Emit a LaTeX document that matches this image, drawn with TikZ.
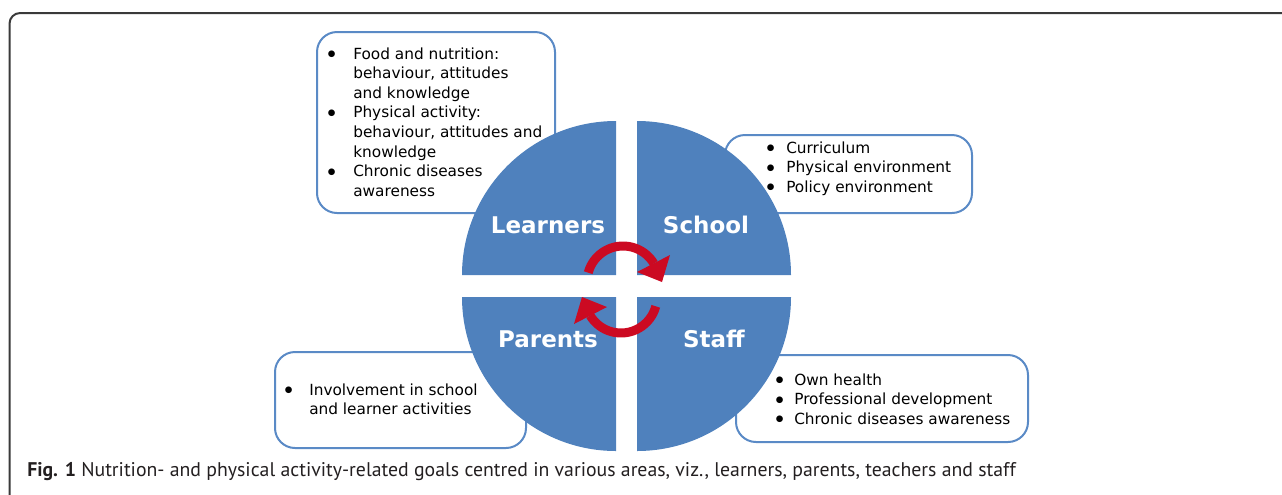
\documentclass[tikz,border=0pt]{standalone}
\usepackage{fontspec}
\setmainfont{DejaVu Sans}
\newfontfamily\capfont{PT Sans}
\definecolor{qblue}{HTML}{4F81BD}
\definecolor{bblue}{HTML}{5A8AC6}
\definecolor{ared}{HTML}{CC0A22}
\definecolor{framegray}{HTML}{3A3A3A}
\definecolor{capgray}{HTML}{231F20}
\newcommand{\bul}[1]{\makebox[#1][l]{\hspace{1.2pt}\raisebox{1.9pt}{\fontsize{6.5}{6.5}\selectfont ●}}}
\begin{document}
\begin{tikzpicture}[x=0.75pt,y=-0.75pt,
  infobox/.style={draw=bblue, line width=1.5pt, rounded corners=15pt, fill=white},
  quad/.style={fill=qblue},
  qlabel/.style={text=white, font=\bfseries\fontsize{17.25}{20}\selectfont, inner sep=0pt, anchor=base},
  listtext/.style={inner sep=0pt, anchor=base west, font=\fontsize{11.5}{14.7}\selectfont, text=black},
  cyc/.style={draw=ared, line width=6.75pt},
  cychead/.style={fill=ared},
  captext/.style={inner sep=0pt, anchor=base west, text=capgray, font=\capfont\fontsize{14.84}{17}\selectfont}
]
\useasboundingbox (0,0) rectangle (1282,494);
\begin{scope}
\clip (0,0) rectangle (1282,494);
\draw[framegray, line width=1.5pt, rounded corners=8pt] (9.5,520) -- (9.5,13) -- (1320,13);
\end{scope}

% info boxes (behind the circle)
\draw[infobox] (317,32) rectangle (555,213);
\draw[infobox] (725,135) rectangle (972,213);
\draw[infobox] (275,352) rectangle (526,448);
\draw[infobox] (736,355) rectangle (1028,442);

% quadrants
\fill[quad] (616,275) -- (462,275) arc[start angle=180, end angle=270, radius=154] -- cycle;
\fill[quad] (637,275) -- (637,121) arc[start angle=270, end angle=360, radius=154] -- cycle;
\fill[quad] (637,297) -- (791,297) arc[start angle=0, end angle=90, radius=154] -- cycle;
\fill[quad] (616,297) -- (616,451) arc[start angle=90, end angle=180, radius=154] -- cycle;

\node[qlabel] (learners) at (548,233) {Learners};
\node[qlabel] (school) at (706,233) {School};
\node[qlabel] (parents) at (548,347) {Parents};
\node[qlabel] (staff) at (714,347) {Staff};

% cycle arrows
\draw[cyc] (623,282) ++(-165:36) arc[start angle=-165, end angle=-31, radius=36];
\fill[cychead] (637,272) -- (670,255) -- (662,282) -- cycle;
\begin{scope}[rotate around={180:(622,289.5)}]
\draw[cyc] (623,282) ++(-165:36) arc[start angle=-165, end angle=-31, radius=36];
\fill[cychead] (637,272) -- (670,255) -- (662,282) -- cycle;
\end{scope}

% lists
\node[listtext] (learnerlist) at (326,59) {\begin{tabular}[t]{@{}l@{}l@{}}
\bul{20.25pt}&Food and nutrition:\\
&behaviour, attitudes\\
&and knowledge\\
\bul{20.25pt}&Physical activity:\\
&behaviour, attitudes and\\
&knowledge\\
\bul{20.25pt}&Chronic diseases\\
&awareness
\end{tabular}};
\node[listtext] (schoollist) at (765,153) {\begin{tabular}[t]{@{}l@{}l@{}}
\bul{15.75pt}&Curriculum\\
\bul{15.75pt}&Physical environment\\
\bul{15.75pt}&Policy environment
\end{tabular}};
\node[listtext] (parentlist) at (283,395) {\begin{tabular}[t]{@{}l@{}l@{}}
\bul{19.5pt}&Involvement in school\\
&and learner activities
\end{tabular}};
\node[listtext] (stafflist) at (774,385) {\begin{tabular}[t]{@{}l@{}l@{}}
\bul{15pt}&Own health\\
\bul{15pt}&Professional development\\
\bul{15pt}&Chronic diseases awareness
\end{tabular}};

\node[captext] (caption) at (27,476) {\textbf{Fig. 1} Nutrition- and physical activity-related goals centred in various areas, viz., learners, parents, teachers and staff};
\end{tikzpicture}
\end{document}
